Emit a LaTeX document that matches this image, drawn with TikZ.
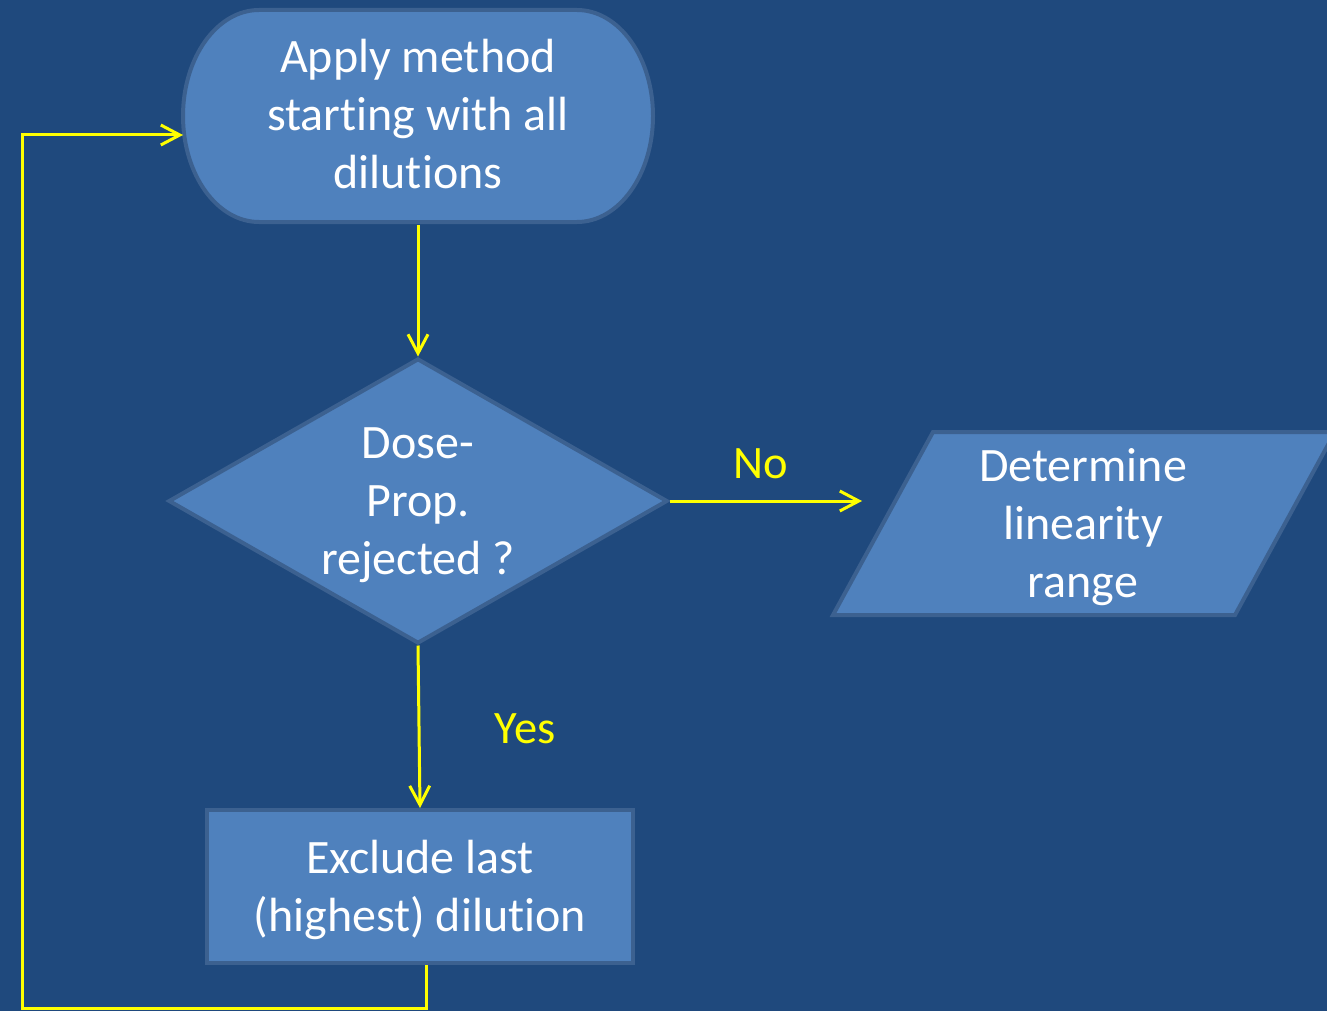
\documentclass[tikz,border=0pt]{standalone}
\usepackage{fontspec}
\setmainfont{Carlito}[Ligatures=NoCommon]
\usetikzlibrary{shapes.geometric,arrows.meta}
\definecolor{bgblue}{RGB}{31,73,125}
\definecolor{fillblue}{RGB}{79,129,189}
\definecolor{edgeblue}{RGB}{60,97,144}
\definecolor{arrowyellow}{RGB}{255,255,0}
\tikzset{
  shapebox/.style={draw=edgeblue, fill=fillblue, line width=4pt, inner sep=0pt},
  hollow/.style={inner sep=0pt, outer sep=0pt},
  boxtext/.style={text=white, align=center, inner sep=0pt, anchor=base,
    font=\fontsize{48}{58}\selectfont},
  labeltext/.style={text=arrowyellow, inner sep=0pt, anchor=base,
    font=\fontsize{46.5}{56}\selectfont},
  arr/.style={draw=arrowyellow, line width=3pt,
    -{Straight Barb[length=19pt,width=20pt]}},
}
\begin{document}
\begin{tikzpicture}[x=1pt,y=-1pt]
\useasboundingbox (0,0) rectangle (1327,1011);
\fill[bgblue] (0,0) rectangle (1327,1011);

% terminator
\node[hollow, minimum width=470pt, minimum height=212pt] (apply) at (418,116) {};
\draw[shapebox] ([xshift=76pt]apply.north west) -- ([xshift=-76pt]apply.north east)
  arc[start angle=90, end angle=-90, x radius=76pt, y radius=106pt]
  -- ([xshift=76pt]apply.south west)
  arc[start angle=270, end angle=90, x radius=76pt, y radius=106pt] -- cycle;
\node[boxtext] (applytext) at (418,189) {Apply method\\starting with all\\dilutions};

% decision
\node[shapebox, diamond, minimum width=499pt, minimum height=285pt] (dose) at (418,501) {};
\node[boxtext] (dosetext) at (418,574) {Dose-\\Prop.\\rejected ?};

% output parallelogram
\node[hollow, minimum width=502pt, minimum height=183pt] (det) at (1084,523.5) {};
\draw[shapebox] (det.south west) -- ([xshift=100pt]det.north west) -- (det.north east)
  -- ([xshift=-100pt]det.south east) -- cycle;
\node[boxtext] (dettext) at (1083,597) {Determine\\linearity\\range};

% process
\node[shapebox, rectangle, minimum width=426pt, minimum height=153pt] (excl) at (420,886.5) {};
\node[boxtext] (excltext) at (420,931) {Exclude last\\(highest) dilution};

% connectors
\coordinate (noend) at (862,501);
\coordinate (loopcorner) at (22,1008);
\draw[arr] ([yshift=-3pt]apply.south) -- (dose.north);
\draw[arr] (dose.east) -- (noend);
\draw[arr] (dose.south) -- (excl.north);
\draw[arr] ([xshift=6pt]excl.south) |- (loopcorner) |- ([yshift=-19pt]apply.west);

% labels
\node[labeltext] (nolabel) at (761,478) {No};
\node[labeltext] (yeslabel) at (525,743) {Yes};
\end{tikzpicture}
\end{document}
